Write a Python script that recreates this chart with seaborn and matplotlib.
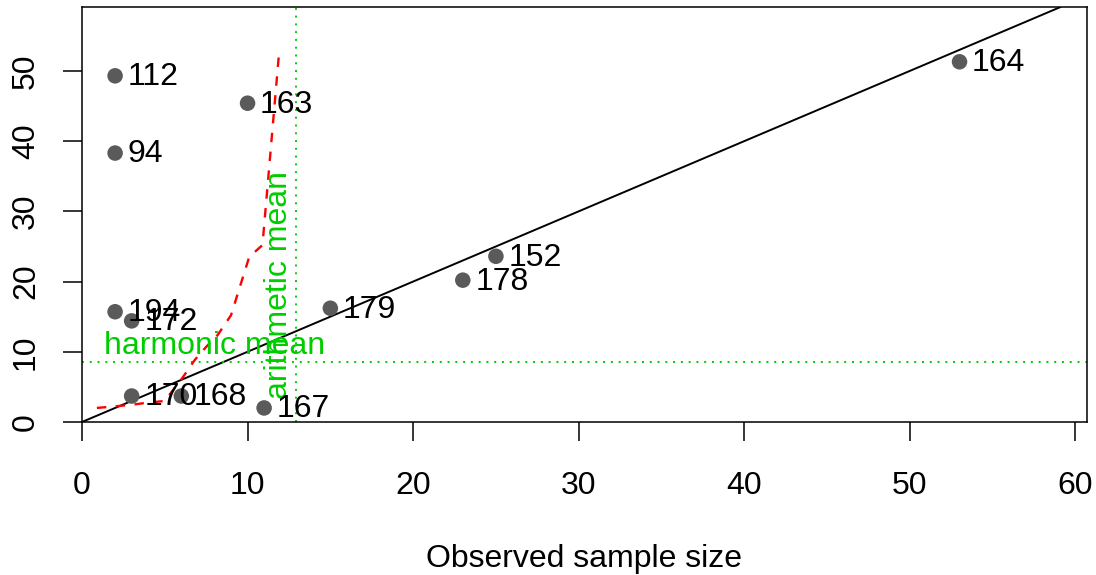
import matplotlib
matplotlib.use("Agg")
import matplotlib.pyplot as plt
import seaborn as sns
import pandas as pd

# observed sample size vs. estimated sample size, with study ids
study_ids = ["112", "163", "94", "164", "152", "178", "179", "194", "172", "170", "168", "167"]
observed = [2, 10, 2, 53, 25, 23, 15, 2, 3, 3, 6, 11]
estimated = [49.3, 45.4, 38.3, 51.3, 23.6, 20.2, 16.2, 15.7, 14.4, 3.7, 3.7, 2.0]

# red dashed reference curve
curve_x = [0.9, 2.8, 3.8, 5.0, 6.1, 6.8, 7.5, 8.2, 9.0, 10.1, 10.9, 11.9]
curve_y = [2.0, 2.4, 2.7, 3.0, 6.4, 8.8, 10.7, 12.4, 15.2, 23.5, 25.2, 52.5]

harmonic_mean = 8.55
arithmetic_mean = sum(observed) / len(observed)

df = pd.DataFrame({"observed": observed, "estimated": estimated, "id": study_ids})

sns.set_style("white")
plt.rcParams['font.family'] = ['Liberation Sans', 'DejaVu Sans']

fig = plt.figure(figsize=(10.96, 5.75), dpi=100)
ax = fig.add_axes([0.0748, 0.2661, 0.9170, 0.7217])

green = '#00CD00'
fs = 23

# 1:1 line
ax.axline((0, 0), slope=1, color='black', lw=1.4, zorder=1)

# means
ax.axvline(arithmetic_mean, color=green, lw=1.4, dashes=(1, 3), zorder=1)
ax.axhline(harmonic_mean, color=green, lw=1.4, dashes=(1, 3), zorder=1)

# red dashed curve
sns.lineplot(x=curve_x, y=curve_y, sort=False, estimator=None, ax=ax,
             color='red', lw=1.7, zorder=2)
ax.lines[-1].set_dashes((4, 4))

# points
sns.scatterplot(data=df, x="observed", y="estimated", ax=ax, s=125,
                color='#5a5a5a', edgecolor='none', zorder=3)

for _, row in df.iterrows():
    ax.annotate(row["id"], (row["observed"], row["estimated"]),
                xytext=(9, -1), textcoords='offset points',
                ha='left', va='center', fontsize=fs, color='black', zorder=4)

ax.annotate("harmonic mean", (8.0, harmonic_mean), xytext=(0, 1),
            textcoords='offset points', ha='center', va='bottom',
            fontsize=fs, color=green)
ax.annotate("arithmetic mean", (arithmetic_mean, 19.5), xytext=(-1, 0),
            textcoords='offset points', ha='right', va='center',
            rotation=90, fontsize=fs, color=green)

ax.set_xlim(0, 60.7)
ax.set_ylim(0, 59.1)
ax.set_xticks(range(0, 61, 10))
ax.set_yticks(range(0, 51, 10))
ax.tick_params(axis='both', bottom=True, left=True, direction='out',
               length=13.5, width=1.1, labelsize=fs,
               color='black', labelcolor='black')
ax.tick_params(axis='x', pad=22)
ax.tick_params(axis='y', pad=16)
for lab in ax.get_yticklabels():
    lab.set_rotation(90)
    lab.set_va('center')

for sp in ax.spines.values():
    sp.set_visible(True)
    sp.set_color('black')
    sp.set_linewidth(1.1)

ax.set_xlabel("Observed sample size", fontsize=fs, labelpad=31, color='black')
ax.set_ylabel("")

fig.savefig("out.png", dpi=100)
